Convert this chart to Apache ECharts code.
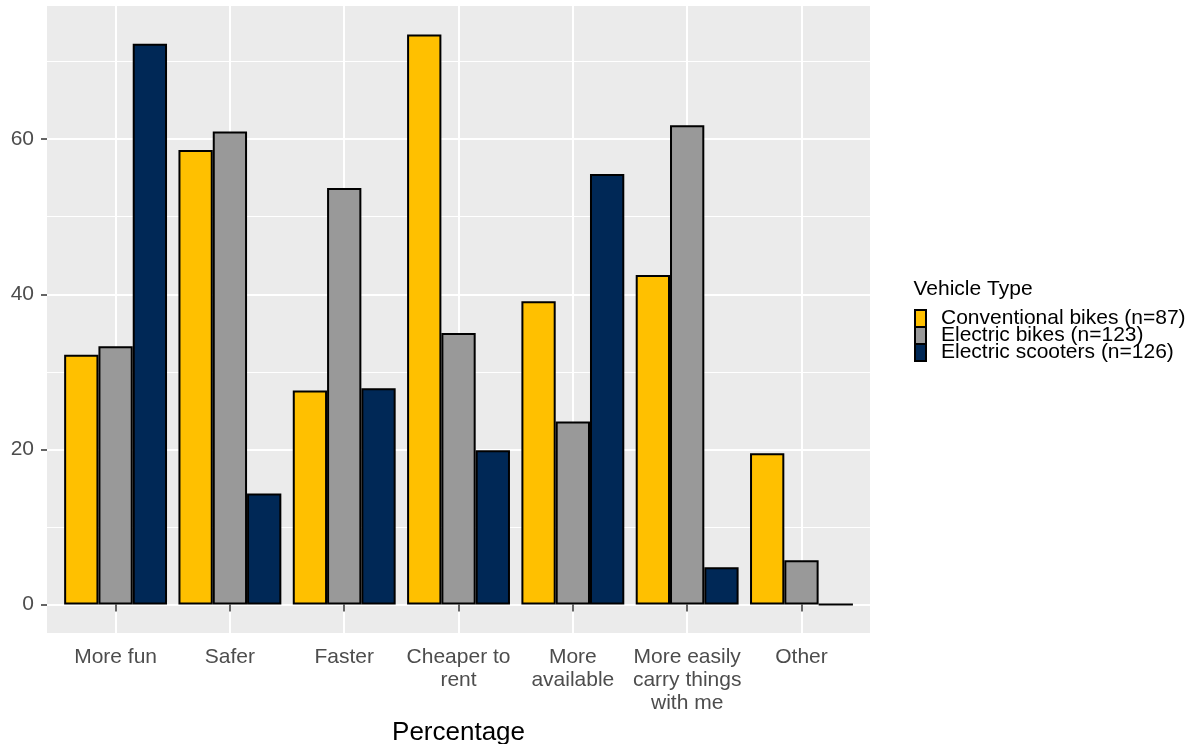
<!DOCTYPE html>
<html>
<head>
<meta charset="utf-8">
<script src="https://cdn.jsdelivr.net/npm/echarts@6/dist/echarts.min.js"></script>
<style>html,body{margin:0;padding:0;background:#fff}#c{width:1195px;height:744px}</style>
</head>
<body>
<div id="c"></div>
<script>
const categories = ['More fun', 'Safer', 'Faster', 'Cheaper to\nrent', 'More\navailable', 'More easily\ncarry things\nwith me', 'Other'];
const seriesNames = ['Conventional bikes (n=87)', 'Electric bikes (n=123)', 'Electric scooters (n=126)'];
const conventional = [32.2, 58.6, 27.6, 73.5, 39.1, 42.5, 19.5];
const electricBikes = [33.3, 61.0, 53.7, 35.0, 23.6, 61.8, 5.7];
const electricScooters = [72.3, 14.3, 27.9, 19.9, 55.5, 4.8, 0];
const majorTicks = [0, 20, 40, 60];
const minorTicks = [10, 30, 50, 70];
const colors = ['#FFC000', '#999999', '#002856'];

const FONT = 'Liberation Sans, Arial, sans-serif';
const yMin = -3.675, yMax = 77.175;
const catIdx = categories.map((c, i) => i);

const chart = echarts.init(document.getElementById('c'), null, {renderer: 'canvas'});
const values = [conventional, electricBikes, electricScooters];
chart.setOption({
  animation: false,
  textStyle: {fontFamily: FONT},
  title: {
    text: 'Vehicle Type', left: 908.5, top: 274,
    textStyle: {fontSize: 21, fontWeight: 'normal', color: '#000', fontFamily: FONT}
  },
  legend: {
    orient: 'vertical', left: 909, top: 303,
    itemWidth: 11, itemHeight: 17, itemGap: -4,
    icon: 'rect',
    textStyle: {fontSize: 21, color: '#000', padding: [0, 0, 0, 10], fontFamily: FONT},
    data: seriesNames
  },
  grid: [
    {left: 47, top: 6, width: 823, height: 627, show: true, backgroundColor: '#EBEBEB', borderWidth: 0, containLabel: false, outerBoundsMode: 'none'},
    {left: 58.43, top: 6, width: 800.2, height: 627, show: false, containLabel: false, outerBoundsMode: 'none'}
  ],
  xAxis: [
    {
      type: 'value', gridIndex: 0, min: -0.6, max: 6.6,
      axisLine: {show: false}, axisLabel: {show: false},
      axisTick: {show: false, customValues: catIdx},
      splitLine: {show: true, lineStyle: {color: '#fff', width: 2}}
    },
    {
      type: 'category', gridIndex: 1, data: categories,
      axisLine: {show: false},
      axisTick: {show: true, alignWithLabel: true, length: 7, lineStyle: {color: '#333', width: 1.5}},
      axisLabel: {color: '#4D4D4D', fontSize: 21, lineHeight: 23, margin: 13, interval: 0, fontFamily: FONT},
      splitLine: {show: false},
      name: 'Percentage', nameLocation: 'middle', nameGap: 80,
      nameTextStyle: {fontSize: 26, color: '#000', fontFamily: FONT}
    }
  ],
  yAxis: [
    {
      type: 'value', gridIndex: 0, min: yMin, max: yMax,
      axisLine: {show: false}, axisLabel: {show: false},
      axisTick: {show: false, customValues: minorTicks},
      splitLine: {show: true, lineStyle: {color: '#fff', width: 1}}
    },
    {
      type: 'value', gridIndex: 0, min: yMin, max: yMax, position: 'left',
      axisLine: {show: false},
      axisLabel: {show: true, customValues: majorTicks, color: '#4D4D4D', fontSize: 21, margin: 13, fontFamily: FONT},
      axisTick: {show: true, customValues: majorTicks, length: 6, lineStyle: {color: '#333', width: 1.5}},
      splitLine: {show: true, lineStyle: {color: '#fff', width: 2}}
    },
    {
      type: 'value', gridIndex: 1, min: yMin, max: yMax,
      axisLine: {show: false}, axisLabel: {show: false}, axisTick: {show: false}, splitLine: {show: false}
    }
  ],
  series: seriesNames.map((n, i) => ({
    name: n, type: 'bar', xAxisIndex: 1, yAxisIndex: 2,
    data: values[i],
    barGap: '0%', barCategoryGap: '10%',
    itemStyle: {color: colors[i], borderColor: '#000', borderWidth: 2},
    emphasis: {disabled: true}
  }))
});
</script>
</body>
</html>
